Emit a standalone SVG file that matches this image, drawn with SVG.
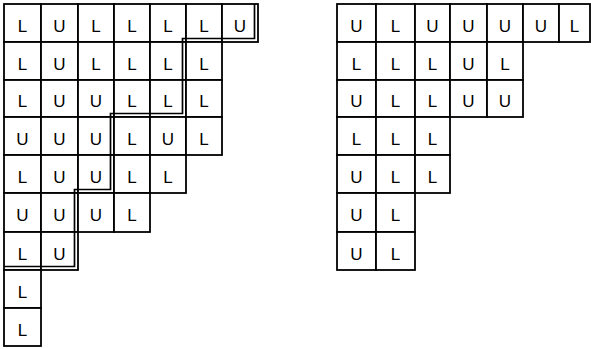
<svg xmlns="http://www.w3.org/2000/svg" width="591" height="349" viewBox="0 0 591 349">
<style>
.c{fill:#fff;stroke:#000;stroke-width:1.8}
.t{font-family:"Liberation Sans",Arial,sans-serif;font-size:17px;text-anchor:middle;fill:#000}
.stair{fill:none;stroke:#000;stroke-width:1.7}
</style>
<rect width="591" height="349" fill="#fff"/>
<g id="left">
<g id="L-r1c1"><rect class="c" x="4" y="4" width="37" height="38"/><text class="t" x="22.5" y="32">L</text></g>
<g id="L-r1c2"><rect class="c" x="41" y="4" width="37" height="38"/><text class="t" x="59.5" y="32">U</text></g>
<g id="L-r1c3"><rect class="c" x="78" y="4" width="36" height="38"/><text class="t" x="96" y="32">L</text></g>
<g id="L-r1c4"><rect class="c" x="114" y="4" width="36" height="38"/><text class="t" x="132" y="32">L</text></g>
<g id="L-r1c5"><rect class="c" x="150" y="4" width="36" height="38"/><text class="t" x="168" y="32">L</text></g>
<g id="L-r1c6"><rect class="c" x="186" y="4" width="36" height="38"/><text class="t" x="204" y="32">L</text></g>
<g id="L-r1c7"><rect class="c" x="222" y="4" width="36" height="38"/><text class="t" x="240" y="32">U</text></g>

<g id="L-r2c1"><rect class="c" x="4" y="42" width="37" height="38"/><text class="t" x="22.5" y="70">L</text></g>
<g id="L-r2c2"><rect class="c" x="41" y="42" width="37" height="38"/><text class="t" x="59.5" y="70">U</text></g>
<g id="L-r2c3"><rect class="c" x="78" y="42" width="36" height="38"/><text class="t" x="96" y="70">L</text></g>
<g id="L-r2c4"><rect class="c" x="114" y="42" width="36" height="38"/><text class="t" x="132" y="70">L</text></g>
<g id="L-r2c5"><rect class="c" x="150" y="42" width="36" height="38"/><text class="t" x="168" y="70">L</text></g>
<g id="L-r2c6"><rect class="c" x="186" y="42" width="36" height="38"/><text class="t" x="204" y="70">L</text></g>

<g id="L-r3c1"><rect class="c" x="4" y="80" width="37" height="37"/><text class="t" x="22.5" y="107">L</text></g>
<g id="L-r3c2"><rect class="c" x="41" y="80" width="37" height="37"/><text class="t" x="59.5" y="107">U</text></g>
<g id="L-r3c3"><rect class="c" x="78" y="80" width="36" height="37"/><text class="t" x="96" y="107">U</text></g>
<g id="L-r3c4"><rect class="c" x="114" y="80" width="36" height="37"/><text class="t" x="132" y="107">L</text></g>
<g id="L-r3c5"><rect class="c" x="150" y="80" width="36" height="37"/><text class="t" x="168" y="107">L</text></g>
<g id="L-r3c6"><rect class="c" x="186" y="80" width="36" height="37"/><text class="t" x="204" y="107">L</text></g>

<g id="L-r4c1"><rect class="c" x="4" y="117" width="37" height="38"/><text class="t" x="22.5" y="145">U</text></g>
<g id="L-r4c2"><rect class="c" x="41" y="117" width="37" height="38"/><text class="t" x="59.5" y="145">U</text></g>
<g id="L-r4c3"><rect class="c" x="78" y="117" width="36" height="38"/><text class="t" x="96" y="145">U</text></g>
<g id="L-r4c4"><rect class="c" x="114" y="117" width="36" height="38"/><text class="t" x="132" y="145">L</text></g>
<g id="L-r4c5"><rect class="c" x="150" y="117" width="36" height="38"/><text class="t" x="168" y="145">U</text></g>
<g id="L-r4c6"><rect class="c" x="186" y="117" width="36" height="38"/><text class="t" x="204" y="145">L</text></g>

<g id="L-r5c1"><rect class="c" x="4" y="155" width="37" height="38"/><text class="t" x="22.5" y="183">L</text></g>
<g id="L-r5c2"><rect class="c" x="41" y="155" width="37" height="38"/><text class="t" x="59.5" y="183">U</text></g>
<g id="L-r5c3"><rect class="c" x="78" y="155" width="36" height="38"/><text class="t" x="96" y="183">U</text></g>
<g id="L-r5c4"><rect class="c" x="114" y="155" width="36" height="38"/><text class="t" x="132" y="183">L</text></g>
<g id="L-r5c5"><rect class="c" x="150" y="155" width="36" height="38"/><text class="t" x="168" y="183">L</text></g>

<g id="L-r6c1"><rect class="c" x="4" y="193" width="37" height="39"/><text class="t" x="22.5" y="221">U</text></g>
<g id="L-r6c2"><rect class="c" x="41" y="193" width="37" height="39"/><text class="t" x="59.5" y="221">U</text></g>
<g id="L-r6c3"><rect class="c" x="78" y="193" width="36" height="39"/><text class="t" x="96" y="221">U</text></g>
<g id="L-r6c4"><rect class="c" x="114" y="193" width="36" height="39"/><text class="t" x="132" y="221">L</text></g>

<g id="L-r7c1"><rect class="c" x="4" y="232" width="37" height="38"/><text class="t" x="22.5" y="260">L</text></g>
<g id="L-r7c2"><rect class="c" x="41" y="232" width="37" height="38"/><text class="t" x="59.5" y="260">U</text></g>

<g id="L-r8c1"><rect class="c" x="4" y="270" width="37" height="38"/><text class="t" x="22.5" y="298">L</text></g>
<g id="L-r9c1"><rect class="c" x="4" y="308" width="37" height="38"/><text class="t" x="22.5" y="336">L</text></g>
</g>

<g id="connectors">
<path class="stair" d="M254.5 4 V38.5 H182.5 V113.5 H110.5 V189.5 H74.5 V266.5 H4"/>
</g>

<g id="right">
<g id="R-r1c1"><rect class="c" x="337" y="4" width="39" height="38"/><text class="t" x="356.5" y="32">U</text></g>
<g id="R-r1c2"><rect class="c" x="376" y="4" width="39" height="38"/><text class="t" x="395.5" y="32">L</text></g>
<g id="R-r1c3"><rect class="c" x="415" y="4" width="35" height="38"/><text class="t" x="432.5" y="32">U</text></g>
<g id="R-r1c4"><rect class="c" x="450" y="4" width="37" height="38"/><text class="t" x="468.5" y="32">U</text></g>
<g id="R-r1c5"><rect class="c" x="487" y="4" width="36" height="38"/><text class="t" x="505" y="32">U</text></g>
<g id="R-r1c6"><rect class="c" x="523" y="4" width="36" height="38"/><text class="t" x="541" y="32">U</text></g>
<g id="R-r1c7"><rect class="c" x="559" y="4" width="31" height="38"/><text class="t" x="574.5" y="32">L</text></g>

<g id="R-r2c1"><rect class="c" x="337" y="42" width="39" height="38"/><text class="t" x="356.5" y="70">L</text></g>
<g id="R-r2c2"><rect class="c" x="376" y="42" width="39" height="38"/><text class="t" x="395.5" y="70">L</text></g>
<g id="R-r2c3"><rect class="c" x="415" y="42" width="35" height="38"/><text class="t" x="432.5" y="70">L</text></g>
<g id="R-r2c4"><rect class="c" x="450" y="42" width="37" height="38"/><text class="t" x="468.5" y="70">U</text></g>
<g id="R-r2c5"><rect class="c" x="487" y="42" width="36" height="38"/><text class="t" x="505" y="70">L</text></g>

<g id="R-r3c1"><rect class="c" x="337" y="80" width="39" height="37"/><text class="t" x="356.5" y="107">U</text></g>
<g id="R-r3c2"><rect class="c" x="376" y="80" width="39" height="37"/><text class="t" x="395.5" y="107">L</text></g>
<g id="R-r3c3"><rect class="c" x="415" y="80" width="35" height="37"/><text class="t" x="432.5" y="107">L</text></g>
<g id="R-r3c4"><rect class="c" x="450" y="80" width="37" height="37"/><text class="t" x="468.5" y="107">U</text></g>
<g id="R-r3c5"><rect class="c" x="487" y="80" width="36" height="37"/><text class="t" x="505" y="107">U</text></g>

<g id="R-r4c1"><rect class="c" x="337" y="117" width="39" height="38"/><text class="t" x="356.5" y="145">L</text></g>
<g id="R-r4c2"><rect class="c" x="376" y="117" width="39" height="38"/><text class="t" x="395.5" y="145">L</text></g>
<g id="R-r4c3"><rect class="c" x="415" y="117" width="35" height="38"/><text class="t" x="432.5" y="145">L</text></g>

<g id="R-r5c1"><rect class="c" x="337" y="155" width="39" height="38"/><text class="t" x="356.5" y="183">U</text></g>
<g id="R-r5c2"><rect class="c" x="376" y="155" width="39" height="38"/><text class="t" x="395.5" y="183">L</text></g>
<g id="R-r5c3"><rect class="c" x="415" y="155" width="35" height="38"/><text class="t" x="432.5" y="183">L</text></g>

<g id="R-r6c1"><rect class="c" x="337" y="193" width="39" height="39"/><text class="t" x="356.5" y="221">U</text></g>
<g id="R-r6c2"><rect class="c" x="376" y="193" width="39" height="39"/><text class="t" x="395.5" y="221">L</text></g>

<g id="R-r7c1"><rect class="c" x="337" y="232" width="39" height="38"/><text class="t" x="356.5" y="260">U</text></g>
<g id="R-r7c2"><rect class="c" x="376" y="232" width="39" height="38"/><text class="t" x="395.5" y="260">L</text></g>
</g>
</svg>
